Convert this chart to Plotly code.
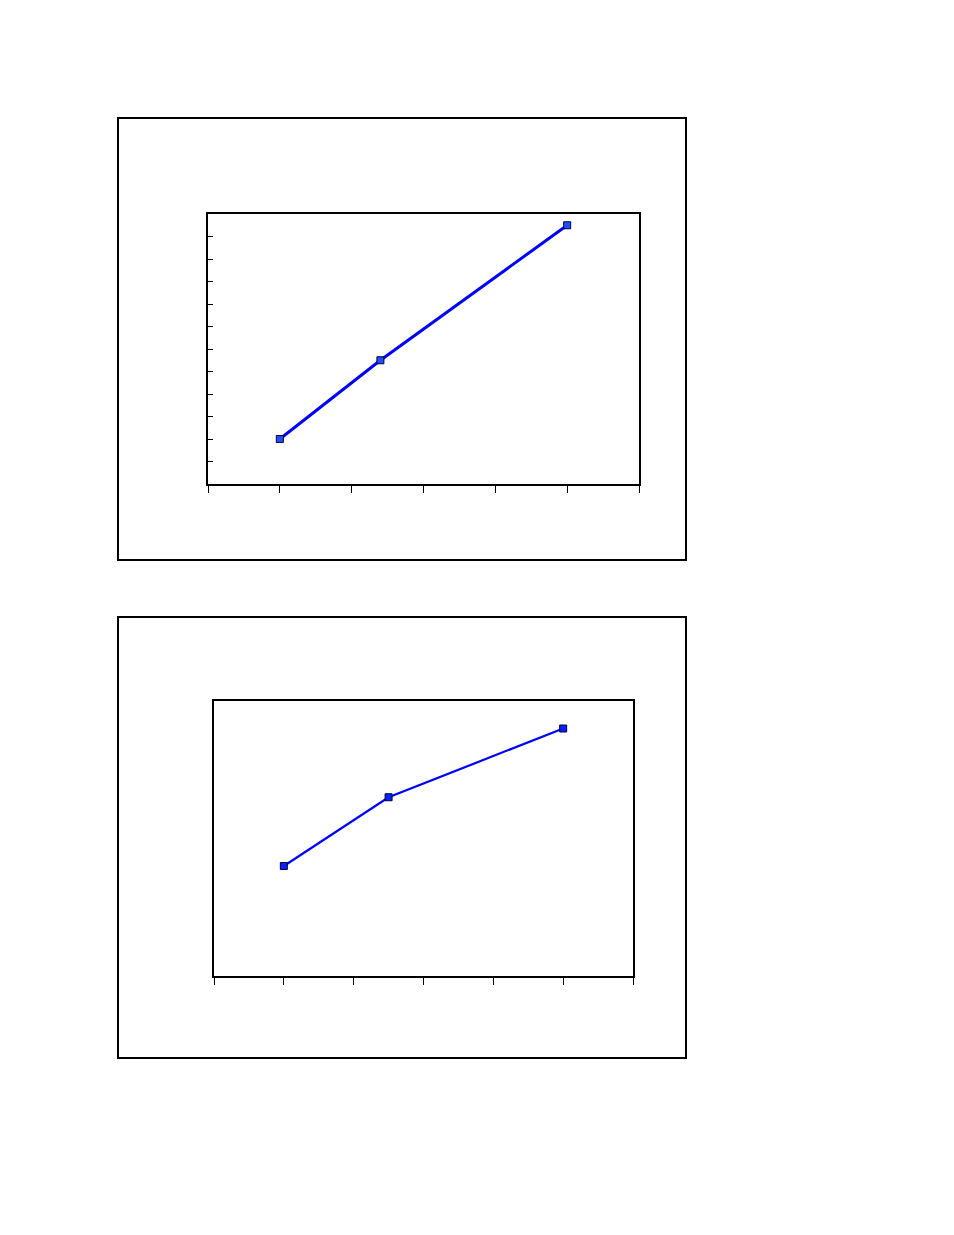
import plotly.graph_objects as go

# two small line charts, no labels on either
top_x = [1, 2.4, 5]
top_y = [2, 5.5, 11.5]

bottom_x = [1, 2.5, 5]
bottom_y = [16, 26, 36]

W, H = 954, 1235
OFF = 8  # the page body margin shifts everything by 8px


def px_x(v):
    return (v - OFF) / W


def px_y(v):
    return 1 - (v - OFF) / H


fig = go.Figure()

fig.add_trace(go.Scatter(
    x=top_x, y=top_y, mode='lines+markers', xaxis='x', yaxis='y',
    line=dict(color='#0000ff', width=3),
    marker=dict(symbol='square', size=7, color='#1f4fff',
                line=dict(color='#000033', width=1)),
    showlegend=False))

fig.add_trace(go.Scatter(
    x=bottom_x, y=bottom_y, mode='lines+markers', xaxis='x2', yaxis='y2',
    line=dict(color='#0000ff', width=2.2),
    marker=dict(symbol='square', size=7, color='#0a1fff',
                line=dict(color='#000033', width=1)),
    showlegend=False))

axis_common = dict(showgrid=False, zeroline=False, showline=True,
                   linecolor='black', linewidth=1.5, mirror=True,
                   showticklabels=False, tickcolor='black', tickwidth=1)

fig.update_layout(
    width=W, height=H,
    margin=dict(l=0, r=0, t=0, b=0),
    paper_bgcolor='white', plot_bgcolor='white',
    xaxis=dict(domain=[px_x(208), px_x(639)], range=[0, 6], anchor='y',
               ticks='outside', ticklen=7, tick0=0, dtick=1, **axis_common),
    yaxis=dict(domain=[px_y(484), px_y(214)], range=[0, 12], anchor='x',
               ticks='inside', ticklen=5, tick0=0, dtick=1, **axis_common),
    xaxis2=dict(domain=[px_x(214), px_x(633)], range=[0, 6], anchor='y2',
                ticks='outside', ticklen=7, tick0=0, dtick=1, **axis_common),
    yaxis2=dict(domain=[px_y(976), px_y(701)], range=[0, 40], anchor='x2',
                ticks='', **axis_common),
)

# outer chart frames
for y0, y1 in [(118, 560), (617, 1058)]:
    fig.add_shape(type='rect', xref='paper', yref='paper',
                  x0=px_x(118), x1=px_x(686), y0=px_y(y1), y1=px_y(y0),
                  line=dict(color='black', width=2), fillcolor='rgba(0,0,0,0)')

fig.write_html("out.html")
